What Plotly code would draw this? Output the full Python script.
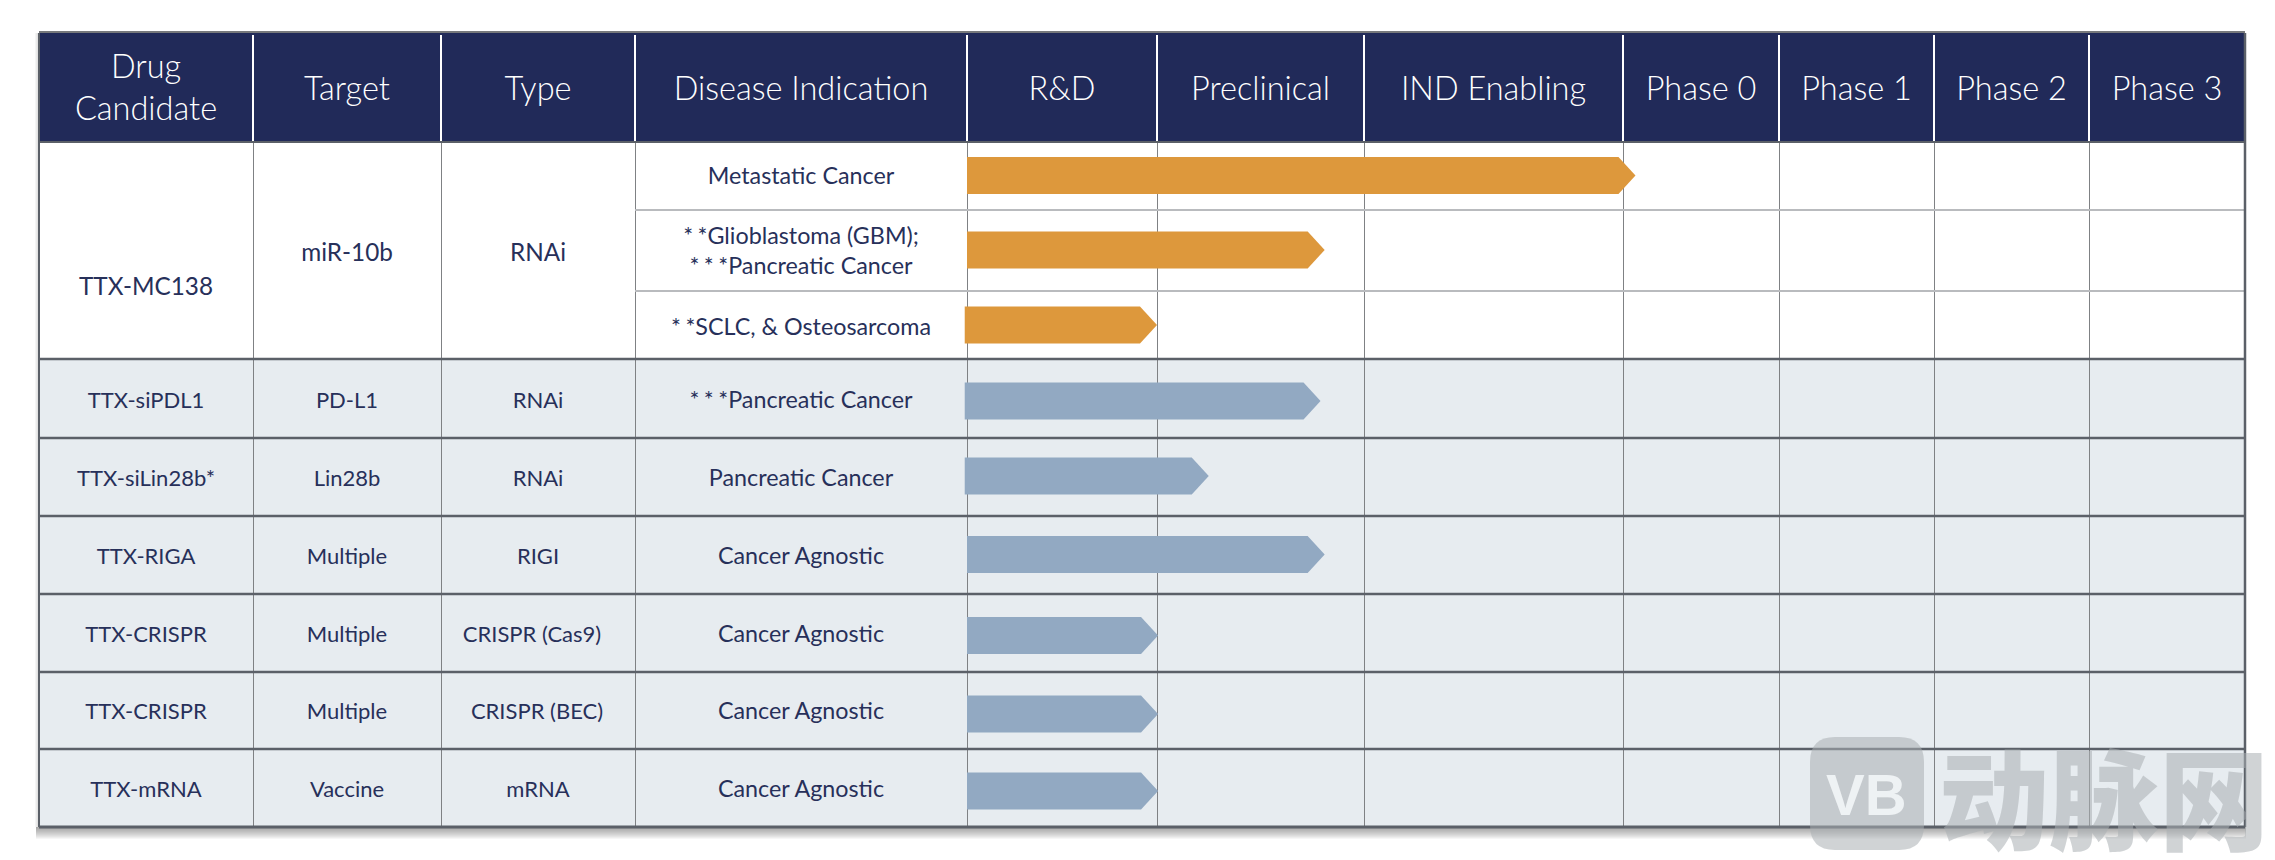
import re
import numpy as np
import plotly.graph_objects as go

# ---------- data ----------
headers = ["Drug<br>Candidate", "Target", "Type", "Disease Indication", "R&D", "Preclinical",
           "IND Enabling", "Phase 0", "Phase 1", "Phase 2", "Phase 3"]
drugs = ["TTX-MC138", "TTX-siPDL1", "TTX-siLin28b*", "TTX-RIGA", "TTX-CRISPR", "TTX-CRISPR", "TTX-mRNA"]
targets = ["miR-10b", "PD-L1", "Lin28b", "Multiple", "Multiple", "Multiple", "Vaccine"]
types = ["RNAi", "RNAi", "RNAi", "RIGI", "CRISPR (Cas9)", "CRISPR (BEC)", "mRNA"]
indications = ["Metastatic Cancer", "**Glioblastoma (GBM);<br>***Pancreatic Cancer", "**SCLC, & Osteosarcoma",
               "***Pancreatic Cancer", "Pancreatic Cancer", "Cancer Agnostic", "Cancer Agnostic",
               "Cancer Agnostic", "Cancer Agnostic"]
# progress measured in pipeline stages (0 = start of R&D, 1 = end of R&D, 2 = end of Preclinical ...)
progress_start = [0, 0, -0.012, -0.012, -0.012, 0, 0, 0, 0]
progress_end = [3.08, 1.81, 1.0, 1.79, 1.25, 1.81, 1.005, 1.005, 1.005]

# ---------- layout (in reference pixels) ----------
W, H = 2275, 860
PAGE = 8  # page margin of the browser's body
col_edges = [39, 253, 441, 635, 967, 1157, 1364, 1623, 1779, 1934, 2089, 2245]
top, head_bottom = 33, 142
major_rows = [359, 438, 516, 594, 672, 749, 827]
minor_rows = [210, 291]
bar_centers = [175.5, 250, 325, 401, 476, 554.5, 635.5, 714, 791]
bar_half = 18.5
tip_len = 17
header_y = [91] + [92] * 10
indication_y = [178.5, 253, 329, 402, 480, 558, 636, 713, 791]
row_y = [288.5, 402, 480, 558, 636, 713, 791]
col12_first_y = 255
type_nudge = [0, 0, 0, 0, -6, -1, 0]

NAVY, TEXT, SHADE = "#212a59", "#27305a", "#e7ecf0"
ORANGE, STEEL = "#dd983c", "#92a9c2"
DARK, MID, LIGHT = "#5b6068", "#7f8184", "#b9bbbe"
FONT = "Lato"

stage_x = np.array(col_edges[4:])
stage_idx = np.arange(len(stage_x))
def stage_to_x(v):
    if v < 0:
        return stage_x[0] + v * (stage_x[1] - stage_x[0])
    return float(np.interp(v, stage_idx, stage_x))
centers = [(a + b) / 2 for a, b in zip(col_edges[:-1], col_edges[1:])]

shapes = []
def rect(x0, x1, y0, y1, color, opacity=1.0, layer="below"):
    shapes.append(dict(type="rect", x0=x0, x1=x1, y0=y0, y1=y1, xref="x", yref="y", layer=layer,
                       fillcolor=color, opacity=opacity, line=dict(width=0)))
def line(x0, x1, y0, y1, color, width):
    shapes.append(dict(type="line", x0=x0, x1=x1, y0=y0, y1=y1, xref="x", yref="y", layer="below",
                       line=dict(color=color, width=width)))

# soft drop shadow
for i in range(1, 13):
    rect(col_edges[0] - 3, col_edges[-1] + 1, major_rows[-1], major_rows[-1] + i, "#505050", 0.05)
for i in range(1, 5):
    rect(col_edges[0] - i, col_edges[0], top, major_rows[-1], "#505050", 0.06)

# panels
rect(col_edges[0], col_edges[-1], top, head_bottom, NAVY)
rect(col_edges[0], col_edges[-1], major_rows[0], major_rows[-1], SHADE)

# vertical rules
for x in col_edges[1:-1]:
    line(x + 0.5, x + 0.5, head_bottom, major_rows[-1], MID, 1)
    line(x, x, top + 2, head_bottom, "#ffffff", 2)
# horizontal rules
for y in minor_rows:
    line(col_edges[3], col_edges[-1], y, y, LIGHT, 2)
for y in major_rows[:-1]:
    line(col_edges[0], col_edges[-1], y, y, DARK, 2.5)
line(col_edges[0], col_edges[-1], head_bottom, head_bottom, DARK, 2)
line(col_edges[0], col_edges[-1], top - 1, top - 1, "#77797c", 2)
line(col_edges[0], col_edges[-1], major_rows[-1], major_rows[-1], DARK, 3)
line(col_edges[0], col_edges[0], top, major_rows[-1], DARK, 2)
line(col_edges[-1], col_edges[-1], top, major_rows[-1], DARK, 2.5)

fig = go.Figure()

# pipeline bars
for i, (s, e, cy) in enumerate(zip(progress_start, progress_end, bar_centers)):
    x0, x1 = stage_to_x(s), stage_to_x(e)
    fig.add_trace(go.Scatter(
        x=[x0, x1 - tip_len, x1, x1 - tip_len, x0, x0],
        y=[cy - bar_half, cy - bar_half, cy, cy + bar_half, cy + bar_half, cy - bar_half],
        mode="lines", fill="toself", fillcolor=ORANGE if i < 3 else STEEL,
        line=dict(width=0), hoverinfo="skip", showlegend=False))

def text_trace(xs, ys, labels, size, color, weight=400):
    fig.add_trace(go.Scatter(x=xs, y=ys, text=labels, mode="text", textposition="middle center",
                             textfont=dict(family=FONT, size=size, color=color, weight=weight),
                             hoverinfo="skip", showlegend=False))

def spaced_stars(label):
    """The reference sets its asterisks wide apart (none after the last one)."""
    return re.sub(r"(\*+)\*", r'<span style="letter-spacing:4.5px">\1</span>*', label)

# header labels
text_trace(centers, header_y, headers, 32.5, "#ffffff", 300)
# body columns
text_trace(centers[:1], [row_y[0]], [drugs[0]], 24.3, TEXT)
text_trace(centers[1:3], [col12_first_y] * 2, [targets[0], types[0]], 24.3, TEXT)
text_trace([centers[0]] * 6, row_y[1:], drugs[1:], 22, TEXT)
text_trace([centers[1]] * 6, row_y[1:], targets[1:], 22, TEXT)
text_trace([centers[2] + n for n in type_nudge[1:]], row_y[1:], types[1:], 22, TEXT)
text_trace([centers[3]] * len(indications), indication_y, [spaced_stars(t) for t in indications], 23.3, TEXT)

# watermark
WM = "rgba(170,174,178,0.55)"
annotations = [
    dict(x=2104, y=794, xref="x", yref="y", text="动脉网", showarrow=False, xanchor="center", yanchor="middle",
         font=dict(family="Noto Sans CJK SC", size=110, color=WM, weight=900)),
    dict(x=1866, y=794, xref="x", yref="y", text="VB", showarrow=False, xanchor="center", yanchor="middle",
         font=dict(family="Liberation Sans", size=58, color="rgba(240,243,246,0.95)", weight=700)),
]
shapes.append(dict(type="path", xref="x", yref="y", layer="above", fillcolor=WM, line=dict(width=0),
                   path="M 1835 737 L 1899 737 Q 1924 737 1924 762 L 1924 825 Q 1924 850 1899 850 "
                        "L 1835 850 Q 1810 850 1810 825 L 1810 762 Q 1810 737 1835 737 Z"))

fig.update_layout(
    width=W, height=H, margin=dict(l=0, r=0, t=0, b=0),
    paper_bgcolor="#ffffff", plot_bgcolor="#ffffff",
    xaxis=dict(range=[PAGE, W + PAGE], visible=False, fixedrange=True),
    yaxis=dict(range=[H + PAGE, PAGE], visible=False, fixedrange=True),
    shapes=shapes, annotations=annotations, showlegend=False,
)
fig.write_html("out.html")
